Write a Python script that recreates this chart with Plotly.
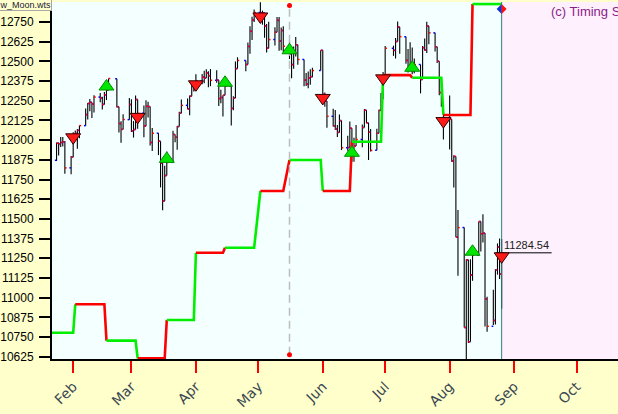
import plotly.graph_objects as go
import pandas as pd

# ---------------- data: DJIA daily bars ----------------
dates = [
    "2011-01-24", "2011-01-25", "2011-01-26", "2011-01-27", "2011-01-28", "2011-01-31",
    "2011-02-01", "2011-02-02", "2011-02-03", "2011-02-04", "2011-02-07", "2011-02-08", "2011-02-09",
    "2011-02-10", "2011-02-11", "2011-02-14", "2011-02-15", "2011-02-16", "2011-02-17", "2011-02-18",
    "2011-02-22", "2011-02-23", "2011-02-24", "2011-02-25", "2011-02-28",
    "2011-03-01", "2011-03-02", "2011-03-03", "2011-03-04", "2011-03-07", "2011-03-08", "2011-03-09",
    "2011-03-10", "2011-03-11", "2011-03-14", "2011-03-15", "2011-03-16", "2011-03-17", "2011-03-18",
    "2011-03-21", "2011-03-22", "2011-03-23", "2011-03-24", "2011-03-25", "2011-03-28", "2011-03-29",
    "2011-03-30", "2011-03-31",
    "2011-04-01", "2011-04-04", "2011-04-05", "2011-04-06", "2011-04-07", "2011-04-08", "2011-04-11",
    "2011-04-12", "2011-04-13", "2011-04-14", "2011-04-15", "2011-04-18", "2011-04-19", "2011-04-20",
    "2011-04-21", "2011-04-25", "2011-04-26", "2011-04-27", "2011-04-28", "2011-04-29",
    "2011-05-02", "2011-05-03", "2011-05-04", "2011-05-05", "2011-05-06", "2011-05-09", "2011-05-10",
    "2011-05-11", "2011-05-12", "2011-05-13", "2011-05-16", "2011-05-17", "2011-05-18", "2011-05-19",
    "2011-05-20", "2011-05-23", "2011-05-24", "2011-05-25", "2011-05-26", "2011-05-27", "2011-05-31",
    "2011-06-01", "2011-06-02", "2011-06-03", "2011-06-06", "2011-06-07", "2011-06-08", "2011-06-09",
    "2011-06-10", "2011-06-13", "2011-06-14", "2011-06-15", "2011-06-16", "2011-06-17", "2011-06-20",
    "2011-06-21", "2011-06-22", "2011-06-23", "2011-06-24", "2011-06-27", "2011-06-28", "2011-06-29",
    "2011-06-30",
    "2011-07-01", "2011-07-05", "2011-07-06", "2011-07-07", "2011-07-08", "2011-07-11", "2011-07-12",
    "2011-07-13", "2011-07-14", "2011-07-15", "2011-07-18", "2011-07-19", "2011-07-20", "2011-07-21",
    "2011-07-22", "2011-07-25", "2011-07-26", "2011-07-27", "2011-07-28", "2011-07-29",
    "2011-08-01", "2011-08-02", "2011-08-03", "2011-08-04", "2011-08-05", "2011-08-08", "2011-08-09",
    "2011-08-10", "2011-08-11", "2011-08-12", "2011-08-15", "2011-08-16", "2011-08-17", "2011-08-18",
    "2011-08-19", "2011-08-22", "2011-08-23", "2011-08-24", "2011-08-25", "2011-08-26",
]

opens = [
    11872, 11980, 11977, 11985, 11990, 11824,
    11892, 12040, 12042, 12062, 12092, 12162, 12233, 12240, 12229, 12273, 12268, 12227, 12288, 12318,
    12389, 12212, 12105, 12068, 12130,
    12226, 12058, 12067, 12258, 12170, 12090, 12214, 12213, 11985, 12044, 11993, 11855, 11613, 11775,
    11859, 12036, 12018, 12086, 12171, 12221, 12198, 12279, 12351,
    12320, 12377, 12400, 12394, 12427, 12409, 12380, 12381, 12264, 12271, 12285, 12342, 12202, 12267,
    12454, 12506, 12480, 12595, 12691, 12763,
    12811, 12807, 12807, 12724, 12584, 12639, 12685, 12760, 12630, 12696, 12596, 12548, 12480, 12560,
    12605, 12512, 12381, 12356, 12395, 12403, 12442,
    12570, 12290, 12248, 12151, 12090, 12071, 12049, 12124, 11952, 11953, 12076, 11897, 11962, 12004,
    12080, 12190, 12110, 12050, 11935, 12044, 12189, 12261,
    12414, 12583, 12570, 12626, 12719, 12657, 12506, 12447, 12492, 12437, 12480, 12385, 12587, 12572,
    12724, 12681, 12593, 12501, 12302, 12240,
    12143, 12132, 11867, 11896, 11384, 11445, 10810, 11240, 10720, 11143, 11269, 11483, 11406, 11410,
    10991, 10818, 10855, 11177, 11321, 11150,
]

highs = [
    11985, 11985, 12020, 12020, 11995, 11899,
    12050, 12061, 12070, 12093, 12201, 12236, 12261, 12240, 12285, 12300, 12275, 12305, 12329, 12391,
    12389, 12212, 12120, 12165, 12268,
    12259, 12121, 12283, 12258, 12220, 12254, 12243, 12213, 12077, 12044, 11993, 11855, 11837, 11928,
    12060, 12036, 12089, 12180, 12258, 12264, 12283, 12366, 12366,
    12419, 12420, 12441, 12450, 12437, 12451, 12443, 12381, 12320, 12285, 12368, 12342, 12278, 12500,
    12526, 12506, 12620, 12723, 12784, 12830,
    12876, 12822, 12810, 12737, 12751, 12716, 12782, 12781, 12715, 12723, 12636, 12548, 12595, 12654,
    12605, 12512, 12426, 12435, 12450, 12460, 12570,
    12570, 12302, 12248, 12200, 12191, 12096, 12162, 12124, 12028, 12118, 12076, 12015, 12096, 12100,
    12197, 12190, 12110, 12070, 12073, 12193, 12299, 12433,
    12598, 12600, 12649, 12753, 12719, 12657, 12579, 12621, 12588, 12518, 12480, 12597, 12645, 12751,
    12724, 12681, 12593, 12501, 12392, 12240,
    12284, 12132, 11904, 11896, 11556, 11445, 11244, 11240, 11243, 11327, 11483, 11483, 11530, 11410,
    11005, 11050, 11180, 11344, 11375, 11372,
]

lows = [
    11868, 11902, 11956, 11960, 11786, 11784,
    11892, 12016, 11946, 12012, 12092, 12131, 12184, 12141, 12175, 12240, 12195, 12226, 12254, 12317,
    12207, 12048, 11983, 12068, 12130,
    12052, 12016, 12067, 12072, 12018, 12088, 12144, 11966, 11931, 11905, 11700, 11555, 11613, 11775,
    11859, 11987, 11939, 12086, 12171, 12196, 12158, 12279, 12309,
    12320, 12354, 12361, 12394, 12336, 12343, 12365, 12216, 12234, 12150, 12285, 12093, 12190, 12267,
    12454, 12438, 12480, 12548, 12636, 12750,
    12784, 12733, 12650, 12557, 12584, 12601, 12685, 12567, 12570, 12561, 12515, 12393, 12453, 12531,
    12479, 12342, 12344, 12329, 12352, 12399, 12442,
    12283, 12212, 12078, 12087, 12064, 12020, 12049, 11937, 11932, 11953, 11863, 11862, 11962, 11955,
    12080, 12107, 11874, 11928, 11935, 12044, 12188, 12261,
    12401, 12535, 12518, 12626, 12549, 12485, 12430, 12447, 12418, 12425, 12297, 12385, 12568, 12553,
    12608, 12562, 12489, 12285, 12212, 12004,
    11941, 11862, 11700, 11383, 11139, 10810, 10604, 10712, 10720, 11107, 11269, 11293, 11350, 10817,
    10784, 10826, 10829, 11146, 11119, 10929,
]

closes = [
    11980.52, 11977.19, 11985.44, 11989.83, 11823.70, 11891.93,
    12040.16, 12041.97, 12062.26, 12092.15, 12161.63, 12233.15, 12239.89, 12229.29, 12273.26, 12268.19,
    12226.64, 12288.17, 12318.14, 12391.25, 12212.79, 12105.78, 12068.50, 12130.45, 12226.34,
    12058.02, 12066.80, 12258.20, 12169.88, 12090.03, 12214.38, 12213.09, 11984.61, 12044.40, 11993.16,
    11855.42, 11613.30, 11774.59, 11858.52, 12036.53, 12018.63, 12086.02, 12170.56, 12220.59, 12197.88,
    12279.01, 12350.61, 12319.73,
    12376.72, 12400.03, 12393.90, 12426.75, 12409.49, 12380.05, 12381.11, 12263.58, 12270.99, 12285.15,
    12341.83, 12201.59, 12266.75, 12453.54, 12505.99, 12479.88, 12595.37, 12690.96, 12763.31, 12810.54,
    12807.36, 12807.51, 12723.58, 12584.17, 12638.74, 12684.68, 12760.36, 12630.03, 12695.92, 12595.75,
    12548.37, 12479.58, 12560.18, 12605.32, 12512.04, 12381.26, 12356.21, 12394.66, 12402.76, 12441.58,
    12569.79,
    12290.14, 12248.55, 12151.26, 12089.96, 12070.81, 12048.94, 12124.36, 11951.91, 11952.97, 12076.11,
    11897.27, 11961.52, 12004.36, 12080.38, 12190.01, 12109.67, 12050.00, 11934.58, 12043.56, 12188.69,
    12261.42, 12414.34,
    12582.77, 12569.87, 12626.02, 12719.49, 12657.20, 12505.76, 12446.88, 12491.61, 12437.12, 12479.73,
    12385.16, 12587.42, 12571.91, 12724.41, 12681.16, 12592.80, 12501.30, 12302.55, 12240.11, 12143.24,
    12132.49, 11866.62, 11896.44, 11383.68, 11444.61, 10809.85, 11239.77, 10719.94, 11143.31, 11269.02,
    11482.90, 11405.93, 11410.21, 10990.58, 10817.65, 10854.65, 11176.76, 11320.71, 11149.82, 11284.54,
]

# ---------------- data: Moon step indicator ----------------
step_start = ["2011-01-21", "2011-02-02", "2011-02-17", "2011-03-04", "2011-03-18", "2011-04-01",
              "2011-04-15", "2011-05-02", "2011-05-16", "2011-06-01", "2011-06-15", "2011-06-30",
              "2011-07-14", "2011-07-29", "2011-08-12"]
step_end = ["2011-02-01", "2011-02-16", "2011-03-03", "2011-03-17", "2011-03-31", "2011-04-14",
            "2011-04-29", "2011-05-13", "2011-05-31", "2011-06-14", "2011-06-29", "2011-07-13",
            "2011-07-28", "2011-08-11", "2011-08-26"]
step_level = [10777, 10958, 10727, 10615, 10858, 11285, 11317, 11677, 11874, 11677, 11990, 12413,
              12396, 12160, 12864]
step_color = ["#00EE00", "#FF0000", "#00EE00", "#FF0000", "#00EE00", "#FF0000", "#00EE00", "#FF0000",
              "#00EE00", "#FF0000", "#00EE00", "#FF0000", "#00EE00", "#FF0000", "#00EE00"]

# ---------------- data: signals ----------------
signal_dates = ["2011-02-01", "2011-02-17", "2011-03-04", "2011-03-18", "2011-04-01", "2011-04-15",
                "2011-05-02", "2011-05-16", "2011-06-01", "2011-06-15", "2011-06-30", "2011-07-14",
                "2011-07-29", "2011-08-12", "2011-08-26"]
signal_dir = ["down", "up", "down", "up", "down", "up", "down", "up", "down", "up", "down", "up",
              "down", "up", "down"]

cursor_date = "2011-05-16"
last_date = dates[-1]
last_close = closes[-1]
y_ticks_start, y_tick_step = 10625, 125

# ---------------- layout constants ----------------
X_RANGE = ["2011-01-21 19:31", "2011-10-20 22:34"]
Y_RANGE = [10610.4, 12877.0]
W, H = 618, 414
ML, MR, MT, MB = 49, 0, 2, 55

d = pd.to_datetime(dates)
close_by_date = dict(zip(dates, closes))
tick = pd.Timedelta(hours=20)

fig = go.Figure()

# high-low bars
hx, hy = [], []
for t, h, l in zip(d, highs, lows):
    hx += [t, t, None]
    hy += [h, l, None]
fig.add_trace(go.Scatter(x=hx, y=hy, mode="lines", line=dict(color="black", width=1.1),
                         hoverinfo="skip", showlegend=False))
# open ticks (blue, left) and close ticks (red, right)
ox, oy, cx, cy = [], [], [], []
for t, o, c in zip(d, opens, closes):
    ox += [t - tick, t, None]
    oy += [o, o, None]
    cx += [t, t + tick, None]
    cy += [c, c, None]
fig.add_trace(go.Scatter(x=ox, y=oy, mode="lines", line=dict(color="#0000FF", width=1.5),
                         hoverinfo="skip", showlegend=False))
fig.add_trace(go.Scatter(x=cx, y=cy, mode="lines", line=dict(color="#FF0000", width=1.5),
                         hoverinfo="skip", showlegend=False))

# step indicator
n = len(step_level)
for i in range(n):
    xs = [step_start[i], step_end[i]]
    ys = [step_level[i], step_level[i]]
    if i < n - 1:
        xs.append(step_start[i + 1])
        ys.append(step_level[i + 1])
    fig.add_trace(go.Scatter(x=xs, y=ys, mode="lines", line=dict(color=step_color[i], width=2.6),
                             hoverinfo="skip", showlegend=False))

shapes = []
# future region
shapes.append(dict(type="rect", xref="x", yref="paper", x0=last_date, x1=X_RANGE[1], y0=0, y1=1,
                   fillcolor="#FFF0FE", line=dict(width=0), layer="below"))
# cursor line + dots
shapes.append(dict(type="line", xref="x", yref="paper", x0=cursor_date, x1=cursor_date,
                   y0=0.012, y1=0.99, line=dict(color="#BDBDBD", width=1.5, dash="8px,5px")))
for ya in (0.99, 0.012):
    shapes.append(dict(type="circle", xref="x", yref="paper", xsizemode="pixel", ysizemode="pixel",
                       xanchor=cursor_date, yanchor=ya, x0=-2.5, x1=2.5, y0=-2.5, y1=2.5,
                       fillcolor="#FF0000", line=dict(width=0)))
# last-bar line
shapes.append(dict(type="line", xref="x", yref="paper", x0=last_date, x1=last_date, y0=0, y1=1,
                   line=dict(color="#2E7F80", width=1)))
# last price line
shapes.append(dict(type="line", xref="x", yref="y", xsizemode="pixel", xanchor=last_date,
                   x0=-6, x1=50, y0=last_close, y1=last_close, line=dict(color="black", width=1)))
# signal triangles
for sd, sdir in zip(signal_dates, signal_dir):
    price = close_by_date[sd]
    if sdir == "up":
        path, fill, lc = "M -7.5,0 L 7.5,0 L 0,10.5 Z", "#00E600", "#009000"
    else:
        path, fill, lc = "M -7.5,0 L 7.5,0 L 0,-10.5 Z", "#FF1A1A", "#300000"
    shapes.append(dict(type="path", xref="x", yref="y", xsizemode="pixel", ysizemode="pixel",
                       xanchor=sd, yanchor=price, path=path, fillcolor=fill,
                       line=dict(color=lc, width=1)))
# diamond at top of last-bar line
ytop = 1 - 7.0 / (H - MT - MB)
shapes.append(dict(type="path", xref="x", yref="paper", xsizemode="pixel", ysizemode="pixel",
                   xanchor=last_date, yanchor=ytop, path="M 0,-5 L -5,0 L 0,5 Z",
                   fillcolor="#1030E0", line=dict(width=0)))
shapes.append(dict(type="path", xref="x", yref="paper", xsizemode="pixel", ysizemode="pixel",
                   xanchor=last_date, yanchor=ytop, path="M 0,-5 L 5,0 L 0,5 Z",
                   fillcolor="#FF1010", line=dict(width=0)))

annotations = [
    dict(x=last_date, y=last_close, xref="x", yref="y", text=f"{last_close:.2f}", showarrow=False,
         xanchor="left", yanchor="bottom", xshift=0, yshift=0,
         font=dict(family="Liberation Sans, Arial", size=11, color="#202020")),
    dict(x=0, y=1, xref="paper", yref="paper", text="w_Moon.wts", showarrow=False,
         xanchor="right", yanchor="top", xshift=0, yshift=3, width=56, height=10, align="right",
         font=dict(family="Liberation Sans, Arial", size=9, color="#202040"),
         bgcolor="#FFFFCC", bordercolor="#A8A8A8", borderwidth=1, borderpad=0),
    dict(x=(549 - ML) / (W - ML - MR), y=1 - 9.5 / (H - MT - MB), xref="paper", yref="paper",
         text="(c) Timing Solution", showarrow=False, xanchor="left", yanchor="middle",
         font=dict(family="Liberation Sans, Arial", size=13, color="#8A1E8A")),
]

fig.update_layout(
    width=W, height=H,
    margin=dict(l=ML, r=MR, t=MT, b=MB, pad=0),
    paper_bgcolor="#FFFFCC",
    plot_bgcolor="#F4FFFF",
    shapes=shapes,
    annotations=annotations,
    showlegend=False,
    xaxis=dict(type="date", range=X_RANGE, tick0="2011-02-01", dtick="M1", tickformat="%b",
               ticks="outside", ticklen=12, tickwidth=2, tickcolor="#FF0000", tickangle=-45,
               showline=True, linecolor="black", linewidth=2, showgrid=False, zeroline=False,
               tickfont=dict(family="DejaVu Sans", size=14, color="#3A4852")),
    yaxis=dict(range=Y_RANGE, tick0=y_ticks_start, dtick=y_tick_step, tickformat="d",
               ticks="outside", ticklen=11, ticklabelstandoff=3,
               tickwidth=2, tickcolor="black", showline=True, linecolor="black", linewidth=2,
               showgrid=False, zeroline=False,
               tickfont=dict(family="Liberation Sans, Arial", size=12, color="black")),
)

fig.write_html("out.html", config={"displayModeBar": False},
               post_script="document.body.style.margin='0';")
